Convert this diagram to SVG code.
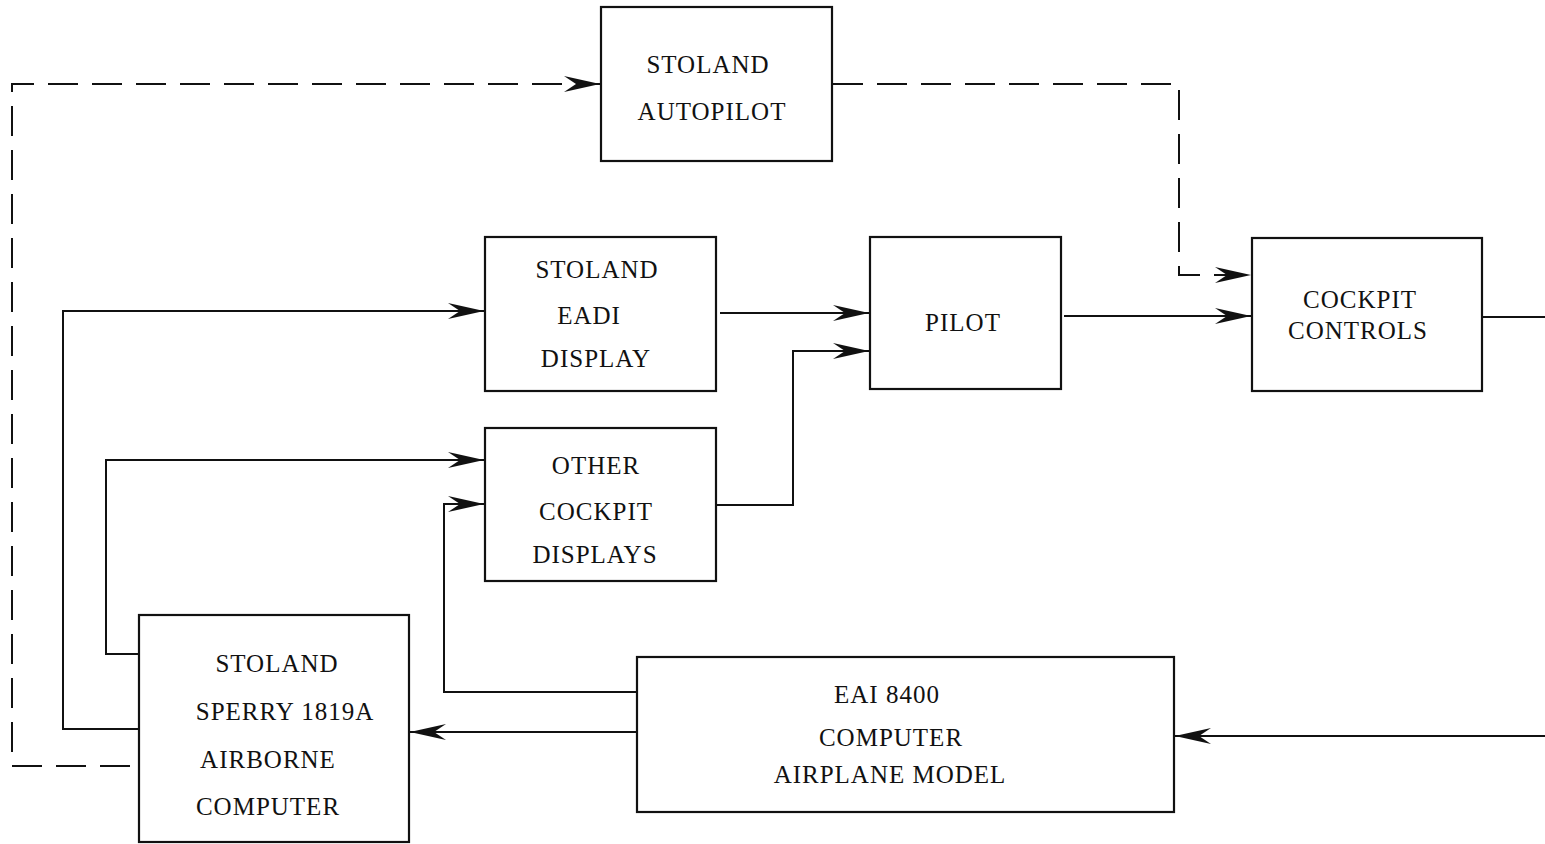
<svg xmlns="http://www.w3.org/2000/svg" width="1545" height="844" viewBox="0 0 1545 844">
<defs>
<style>
.box{fill:#fff;stroke:#111;stroke-width:2.2}
.ln{fill:none;stroke:#111;stroke-width:2}
.dash{fill:none;stroke:#111;stroke-width:2;stroke-dasharray:30,14}
text{font-family:"Liberation Serif","Times New Roman",serif;font-size:25px;letter-spacing:1px;fill:#111;text-anchor:middle}
</style>
<marker id="arr" markerUnits="userSpaceOnUse" markerWidth="40" markerHeight="20" viewBox="-38 -10 40 20" refX="0" refY="0" orient="auto">
<path d="M0,0 L-36,-8 L-24,0 L-36,8 Z" fill="#111"/>
</marker>
</defs>
<rect width="1545" height="844" fill="#fff"/>
<g id="connectors">
<path class="dash" d="M130,766 L12,766 L12,84 L600,84" marker-end="url(#arr)"/>
<path class="dash" d="M833,84 L1179,84 L1179,275 L1251,275" marker-end="url(#arr)"/>
<path class="ln" d="M1064,316 L1251,316" marker-end="url(#arr)"/>
<path class="ln" d="M1483,317 L1545,317"/>
<path class="ln" d="M720,313 L869,313" marker-end="url(#arr)"/>
<path class="ln" d="M717,505 L793,505 L793,351 L869,351" marker-end="url(#arr)"/>
<path class="ln" d="M139,729 L63,729 L63,311 L484,311" marker-end="url(#arr)"/>
<path class="ln" d="M139,654 L106,654 L106,460 L484,460" marker-end="url(#arr)"/>
<path class="ln" d="M637,692 L444,692 L444,504 L484,504" marker-end="url(#arr)"/>
<path class="ln" d="M637,732 L410,732" marker-end="url(#arr)"/>
<path class="ln" d="M1545,736 L1175,736" marker-end="url(#arr)"/>
</g>
<g id="autopilot">
<rect class="box" x="601" y="7" width="231" height="154"/>
<text x="708" y="73">STOLAND</text>
<text x="712" y="120">AUTOPILOT</text>
</g>
<g id="eadi">
<rect class="box" x="485" y="237" width="231" height="154"/>
<text x="597" y="278">STOLAND</text>
<text x="589" y="324">EADI</text>
<text x="596" y="367">DISPLAY</text>
</g>
<g id="pilot">
<rect class="box" x="870" y="237" width="191" height="152"/>
<text x="963" y="331">PILOT</text>
</g>
<g id="cockpit-controls">
<rect class="box" x="1252" y="238" width="230" height="153"/>
<text x="1360" y="308">COCKPIT</text>
<text x="1358" y="339">CONTROLS</text>
</g>
<g id="other-displays">
<rect class="box" x="485" y="428" width="231" height="153"/>
<text x="596" y="474">OTHER</text>
<text x="596" y="520">COCKPIT</text>
<text x="595" y="563">DISPLAYS</text>
</g>
<g id="sperry">
<rect class="box" x="139" y="615" width="270" height="227"/>
<text x="277" y="672">STOLAND</text>
<text x="285" y="720">SPERRY 1819A</text>
<text x="268" y="768">AIRBORNE</text>
<text x="268" y="815">COMPUTER</text>
</g>
<g id="eai">
<rect class="box" x="637" y="657" width="537" height="155"/>
<text x="887" y="703">EAI 8400</text>
<text x="891" y="746">COMPUTER</text>
<text x="890" y="783">AIRPLANE MODEL</text>
</g>
</svg>
